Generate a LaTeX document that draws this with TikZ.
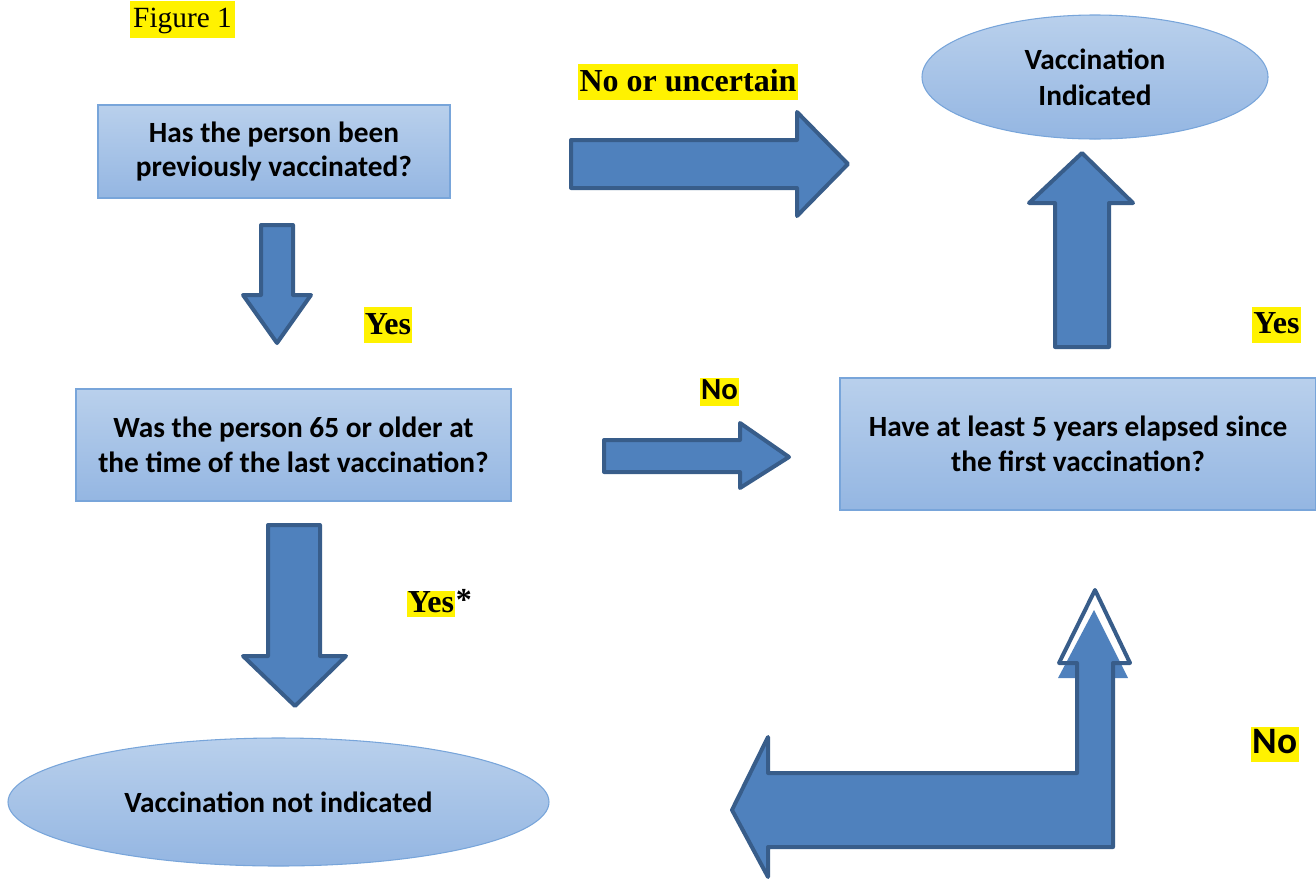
\documentclass[tikz,border=0pt]{standalone}
\usepackage{fontspec}
\usetikzlibrary{shapes.geometric}
\setmainfont{Liberation Serif}
\newfontfamily\boxfont{Carlito}
\definecolor{boxtop}{RGB}{185,208,236}
\definecolor{boxbot}{RGB}{148,182,226}
\definecolor{boxline}{RGB}{120,165,218}
\definecolor{arrfill}{RGB}{79,129,189}
\definecolor{arrline}{RGB}{56,93,138}
\begin{document}
\begin{tikzpicture}[x=0.75pt,y=-0.75pt,
  question/.style={rectangle,draw=boxline,line width=0.8pt,top color=boxtop,bottom color=boxbot,
    align=center,font=\boxfont\bfseries\fontsize{22}{26}\selectfont,inner sep=0pt},
  outcome/.style={ellipse,draw=boxline,line width=0.8pt,top color=boxtop,bottom color=boxbot,
    align=center,font=\boxfont\bfseries\fontsize{22}{27}\selectfont,inner sep=0pt},
  blockarrow/.style={fill=arrfill,draw=arrline,line width=3pt,line join=round},
  hl/.style={fill=yellow,inner sep=0pt,inner xsep=1pt},
  serifhl/.style={hl,font=\bfseries\fontsize{24}{28}\selectfont,text height=20.5pt,text depth=6.5pt},
  sanshl/.style={hl,font=\boxfont\bfseries\fontsize{23}{26}\selectfont,text height=16pt,text depth=5pt}]
\useasboundingbox (0,0) rectangle (1316,882);

% boxes
\node[question,minimum width=264pt,minimum height=69.75pt] (q1) at (274,151.5)
  {Has the person been\\previously vaccinated?};
\node[question,minimum width=326.25pt,minimum height=84pt] (q2) at (293.5,445)
  {Was the person 65 or older at\\the time of the last vaccination?};
\node[question,minimum width=357pt,minimum height=99pt] (q3) at (1078,444)
  {Have at least 5 years elapsed since\\the first vaccination?};

% arrows
\draw[blockarrow] (261,225) -- (293,225) -- (293,295) -- (311,295) -- (277,343) -- (243,295) -- (261,295) -- cycle;
\draw[blockarrow] (571,140) -- (797,140) -- (797,112) -- (848,164) -- (797,216) -- (797,188) -- (571,188) -- cycle;
\draw[blockarrow] (604,440) -- (740,440) -- (740,423) -- (789,457) -- (740,488) -- (740,472) -- (604,472) -- cycle;
\draw[blockarrow] (268,525) -- (320,525) -- (320,656) -- (346,656) -- (295,706) -- (243,656) -- (268,656) -- cycle;
\draw[blockarrow] (1055,347) -- (1055,203) -- (1029,203) -- (1082,153) -- (1133,203) -- (1109,203) -- (1109,347) -- cycle;

% bent arrow
\fill[arrfill] (1113,847) -- (768,847) -- (768,877) -- (732,810) -- (768,737) -- (768,773) -- (1077,773) -- (1077,663) -- (1113,663) -- cycle;
\fill[arrfill] (1058,678) -- (1094,610) -- (1128,678) -- cycle;
\draw[arrline,line width=3pt,line join=round] (1113,847) -- (768,847) -- (768,877) -- (732,810) -- (768,737) -- (768,773) -- (1077,773) -- (1077,663) -- (1059,663) -- (1095,590) -- (1130,663) -- (1113,663) -- cycle;

% outcomes
\node[outcome,minimum width=259.5pt,minimum height=93pt] (v1) at (1095,77)
  {Vaccination\\Indicated};
\node[outcome,minimum width=405.75pt,minimum height=96pt] (v2) at (278.5,802)
  {Vaccination not indicated};

% labels
\node[hl,font=\fontsize{22}{26}\selectfont,inner xsep=2.5pt,text height=20pt,text depth=7.75pt] (fig) at (182.5,19.5) {Figure 1};
\node[serifhl] (l1) at (688,82) {No or uncertain};
\node[serifhl] (l2) at (388,325) {Yes};
\node[serifhl] (l3) at (1276.5,324.5) {Yes};
\node[serifhl,text height=16.5pt,text depth=3pt] (l4) at (431,603.5) {Yes};
\node[anchor=north west,inner sep=0pt,font=\bfseries\fontsize{24}{28}\selectfont] (l4s) at ([yshift=1pt]l4.north east) {*};
\node[sanshl] (l5) at (719.5,392) {No};
\node[sanshl,font=\boxfont\bfseries\fontsize{28}{32}\selectfont,text height=20pt,text depth=6pt] (l6) at (1275,744.5) {No};
\end{tikzpicture}
\end{document}
